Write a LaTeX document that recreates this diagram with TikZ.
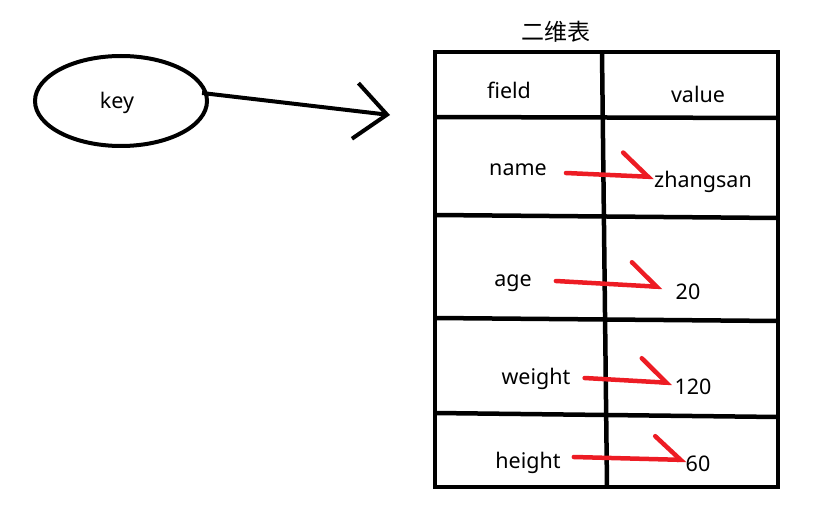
\documentclass[tikz,border=0pt]{standalone}
\usepackage{fontspec}
\setmainfont{Noto Sans}
\newfontfamily\cjkfont{Noto Sans CJK SC}
\usetikzlibrary{arrows.meta, shapes.geometric}
\definecolor{paintred}{RGB}{237,28,36}

\begin{document}
\begin{tikzpicture}[x=1pt, y=-1pt, font=\fontsize{21.5}{25}\selectfont,
    txt/.style={inner sep=0pt},
    grid/.style={line width=4.5pt},
    redarrow/.style={draw=paintred, line width=4.5pt, line cap=round,
        arrows={-Straight Barb[harpoon, length=26pt, width=46pt, line cap=round]}}]

    \useasboundingbox (0,0) rectangle (822,505);

    % Nodes
    \node (key) [draw, ellipse, line width=4pt, minimum width=172pt, minimum height=90pt] at (121,101) {};
    \node [txt] at (117,103) {key};
    \coordinate (tip) at (390,115);

    \node (title) [txt, font=\fontsize{23}{26}\selectfont] at (556,32) {\cjkfont 二维表};

    \node (fhead) [txt] at (509,90) {field};
    \node (vhead) [txt] at (698,94) {value};
    \node (fname) [txt] at (518,170) {name};
    \node (vname) [txt] at (703,182) {zhangsan};
    \node (fage) [txt] at (513,283) {age};
    \node (vage) [txt] at (688,292) {20};
    \node (fweight) [txt] at (536,379) {weight};
    \node (vweight) [txt] at (693,387) {120};
    \node (fheight) [txt] at (528,463) {height};
    \node (vheight) [txt] at (698,464) {60};

    % Table
    \draw[grid] (435,52) rectangle (778,487);
    \draw[grid] (602,52) -- (607,487);
    \draw[grid] (435,117) -- (778,118);
    \draw[grid] (435,215) -- (778,218);
    \draw[grid] (435,318) -- (778,321);
    \draw[grid] (435,413) -- (778,417);

    % Arrows
    \draw[line width=4pt, arrows={-Straight Barb[length=32pt, width=56pt]}] ([shift={(-7,-8)}]key.east) -- (tip);

    \draw[redarrow] ([shift={(19,3)}]fname.east) -- ([shift={(0,-5)}]vname.west);
    \draw[redarrow] ([shift={(24,-2)}]fage.east) -- ([shift={(-13,-5)}]vage.west);
    \draw[redarrow] ([shift={(14,-1)}]fweight.east) -- ([shift={(-2,-4)}]vweight.west);
    \draw[redarrow] ([shift={(13,-6)}]fheight.east) -- ([shift={(1,-4)}]vheight.west);

\end{tikzpicture}
\end{document}
